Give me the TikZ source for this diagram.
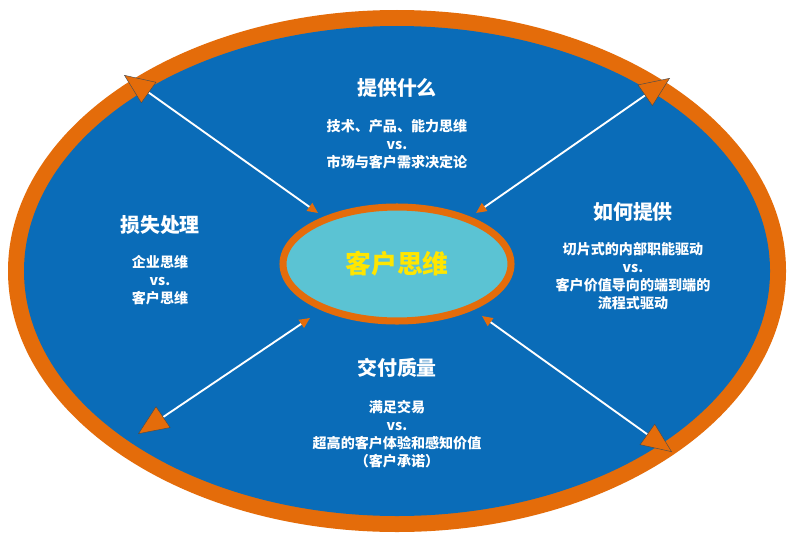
\documentclass[tikz,border=0pt]{standalone}
\usepackage{fontspec}
\newfontfamily\cjk{Noto Sans CJK SC}
\usetikzlibrary{arrows.meta,positioning}
\definecolor{ringorange}{HTML}{E46C0A}
\definecolor{fieldblue}{HTML}{0A6CB8}
\definecolor{hubcyan}{HTML}{5BC3D3}
\definecolor{hubyellow}{HTML}{FFE600}
\tikzset{title/.style={text=white, font=\cjk\bfseries\fontsize{17}{20}\selectfont, align=center},
  body/.style={text=white, font=\cjk\bfseries\fontsize{12}{15.5}\selectfont, align=center},
  spoke/.style={white, line width=1.6pt, {Triangle[fill=ringorange, color=ringorange, length=9pt, width=8pt]}-{Triangle[fill=ringorange, color=black!70, line width=0.4pt, length=26pt, width=22pt]}}}
\begin{document}
\begin{tikzpicture}[x=0.03cm, y=-0.03cm]
    \useasboundingbox (0,0) rectangle (795,534);
    \fill[white] (0,0) rectangle (795,534);
    \fill[ringorange] (397,271) ellipse [x radius=389, y radius=261];
    \fill[fieldblue] (397,271) ellipse [x radius=373, y radius=245];
    % spokes
    \coordinate (inNW) at (318,213);
    \coordinate (outNW) at (124,75);
    \coordinate (inNE) at (476,213);
    \coordinate (outNE) at (670,78);
    \coordinate (inSE) at (482,316);
    \coordinate (outSE) at (672,452);
    \coordinate (inSW) at (310,318);
    \coordinate (outSW) at (138,434);
    \draw[spoke] (inNW) -- (outNW);
    \draw[spoke] (inNE) -- (outNE);
    \draw[spoke] (inSE) -- (outSE);
    \draw[spoke] (inSW) -- (outSW);
    % hub
    \draw[ringorange, line width=6pt, fill=hubcyan] (397,264) ellipse [x radius=114, y radius=57];
    \node[text=hubyellow, font=\cjk\bfseries\fontsize{22}{24}\selectfont] (hub) at (397,264) {客户思维};
    % top
    \node[title] (whatT) at (397,88) {提供什么};
    \node[body] (whatB) at (397,144) {技术、产品、能力思维\\vs.\\市场与客户需求决定论};
    % right
    \node[title] (howT) at (633,212) {如何提供};
    \node[body] (howB) at (633,276) {切片式的内部职能驱动\\vs.\\客户价值导向的端到端的\\流程式驱动};
    % left
    \node[title] (lossT) at (160,225) {损失处理};
    \node[body] (lossB) at (160,280) {企业思维\\vs.\\客户思维};
    % bottom
    \node[title] (qualT) at (397,368) {交付质量};
    \node[body] (qualB) at (397,434) {满足交易\\vs.\\超高的客户体验和感知价值\\（客户承诺）};
\end{tikzpicture}
\end{document}
